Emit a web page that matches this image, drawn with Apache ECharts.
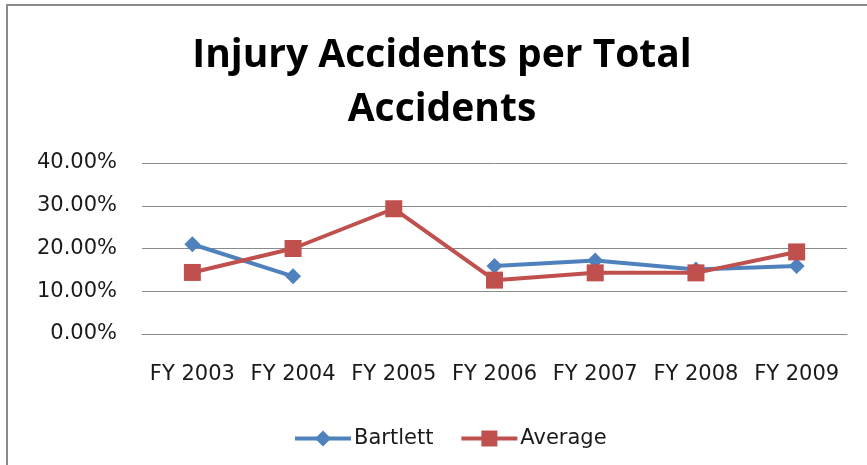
<!DOCTYPE html>
<html>
<head>
<meta charset="utf-8">
<script src="https://cdn.jsdelivr.net/npm/echarts@6/dist/echarts.min.js"></script>
<style>
  html, body { margin: 0; padding: 0; background: #fff; }
  #main { width: 867px; height: 465px; }
</style>
</head>
<body>
<div id="main"></div>
<script>
var years = ['FY 2003', 'FY 2004', 'FY 2005', 'FY 2006', 'FY 2007', 'FY 2008', 'FY 2009'];
// percent values, Bartlett has no value for FY 2005
var bartlett = [21.0, 13.5, null, 15.9, 17.2, 15.1, 15.9];
var average = [14.4, 20.0, 29.3, 12.6, 14.3, 14.3, 19.2];

var myChart = echarts.init(document.getElementById('main'));

var labelFont = 'DejaVu Sans';

var option = {
    backgroundColor: '#fff',
    animation: false,
    graphic: [{
        type: 'rect',
        shape: { x: 7, y: 5, width: 900, height: 520 },
        style: { fill: 'none', stroke: '#8a8a8a', lineWidth: 2 },
        silent: true
    }],
    title: {
        text: 'Injury Accidents per Total\nAccidents',
        left: 437,
        textAlign: 'center',
        top: 24,
        textStyle: {
            fontFamily: 'Open Sans',
            fontWeight: 'bold',
            fontSize: 39,
            lineHeight: 54,
            color: '#000'
        }
    },
    grid: { left: 142, right: 20, top: 163, bottom: 131 },
    xAxis: {
        type: 'category',
        data: years,
        boundaryGap: true,
        axisLine: { show: true, lineStyle: { color: '#8a8a8a', width: 1 } },
        axisTick: { show: false },
        axisLabel: { interval: 0, margin: 30, fontFamily: labelFont, fontSize: 21, color: '#1a1a1a' }
    },
    yAxis: {
        type: 'value',
        min: 0,
        max: 40,
        interval: 10,
        axisLine: { show: false },
        axisTick: { show: false },
        splitLine: { lineStyle: { color: '#8a8a8a', width: 1 } },
        axisLabel: {
            margin: 25,
            fontFamily: labelFont,
            fontSize: 21,
            color: '#1a1a1a',
            formatter: function (v) { return v.toFixed(2) + '%'; }
        }
    },
    legend: {
        bottom: 11,
        left: 288,
        itemWidth: 56,
        itemHeight: 20,
        itemGap: 26,
        lineStyle: { width: 4 },
        textStyle: { fontFamily: labelFont, fontSize: 21, color: '#1a1a1a', padding: [0, 0, 0, -2] },
        data: ['Bartlett', 'Average']
    },
    series: [
        {
            name: 'Bartlett',
            type: 'line',
            data: bartlett,
            connectNulls: false,
            symbol: 'diamond',
            symbolSize: 16,
            lineStyle: { color: '#4f81bd', width: 4 },
            itemStyle: { color: '#4f81bd' }
        },
        {
            name: 'Average',
            type: 'line',
            data: average,
            symbol: 'rect',
            symbolSize: 17,
            lineStyle: { color: '#c0504d', width: 4 },
            itemStyle: { color: '#c0504d' }
        }
    ]
};

myChart.setOption(option);
</script>
</body>
</html>
